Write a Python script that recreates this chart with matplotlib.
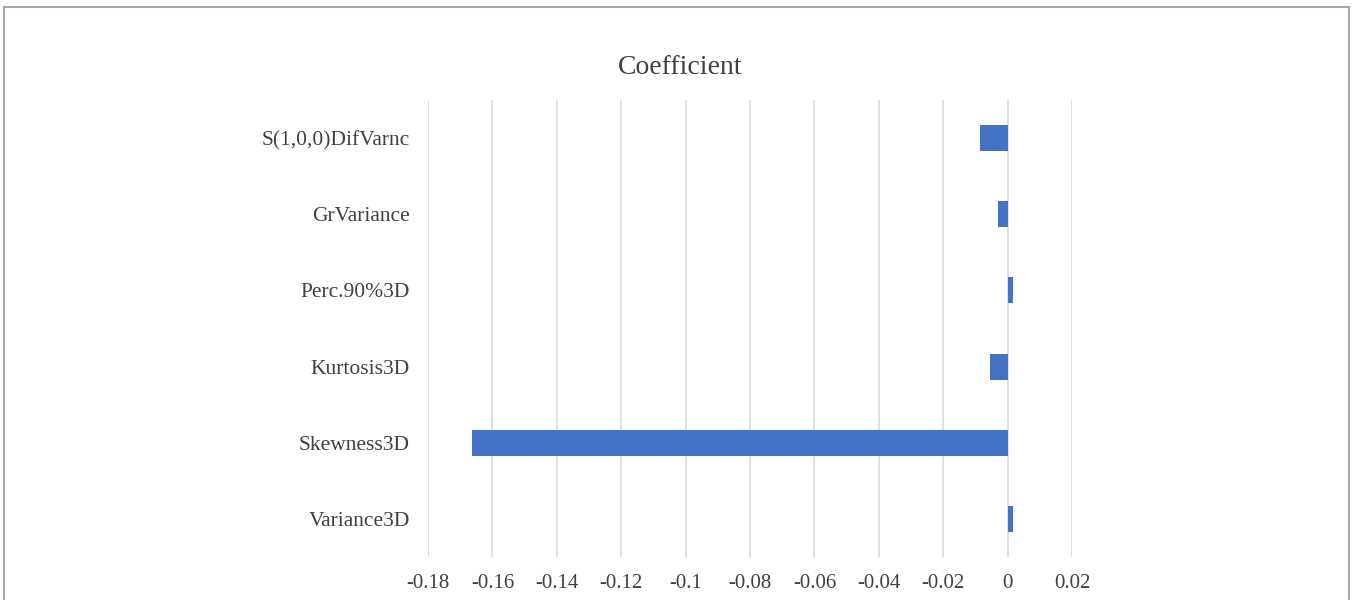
import matplotlib.pyplot as plt
from matplotlib.lines import Line2D

plt.rcParams['font.family'] = ['Liberation Serif', 'DejaVu Serif']

features = ['Variance3D', 'Skewness3D', 'Kurtosis3D', 'Perc.90%3D',
            'GrVariance', 'S(1,0,0)DifVarnc']
coefficients = [0.0016, -0.1663, -0.0055, 0.0016, -0.0029, -0.0087]
xticks = [-0.18, -0.16, -0.14, -0.12, -0.1, -0.08, -0.06, -0.04, -0.02, 0, 0.02]
xtick_labels = ['-0.18', '-0.16', '-0.14', '-0.12', '-0.1', '-0.08', '-0.06',
                '-0.04', '-0.02', '0', '0.02']

text_color = '#404040'

fig = plt.figure(figsize=(13.52, 6), dpi=100)
ax = fig.add_axes([428 / 1352, 1 - 557 / 600, 644 / 1352, 457 / 600])

ax.barh(range(len(features)), coefficients, height=0.34,
        color='#4472C4', zorder=3)

ax.set_xlim(-0.18, 0.02)
ax.set_ylim(-0.5, len(features) - 0.5)
ax.set_xticks(xticks)
ax.set_xticklabels(xtick_labels)
ax.set_yticks(range(len(features)))
ax.set_yticklabels(features)
ax.tick_params(axis='both', length=0, colors=text_color)
ax.tick_params(axis='x', pad=12, labelsize=15)
ax.tick_params(axis='y', pad=13, labelsize=15.5)

ax.grid(axis='x', color='#D9D9D9', linewidth=1.2, zorder=0)
for s in ax.spines.values():
    s.set_visible(False)

fig.text(680 / 1352, 1 - 67 / 600, 'Coefficient', ha='center', va='center',
         fontsize=20, color=text_color)

# chart area frame (open at the bottom)
frame_kw = dict(color='#A6A6A6', linewidth=1.5, transform=fig.transFigure)
x0, x1, y0 = 4 / 1352, 1349 / 1352, 1 - 6.5 / 600
fig.add_artist(Line2D([x0, x1], [y0, y0], **frame_kw))
fig.add_artist(Line2D([x0, x0], [0, y0], **frame_kw))
fig.add_artist(Line2D([x1, x1], [0, y0], **frame_kw))

fig.savefig('out.png', dpi=100, facecolor='white')
